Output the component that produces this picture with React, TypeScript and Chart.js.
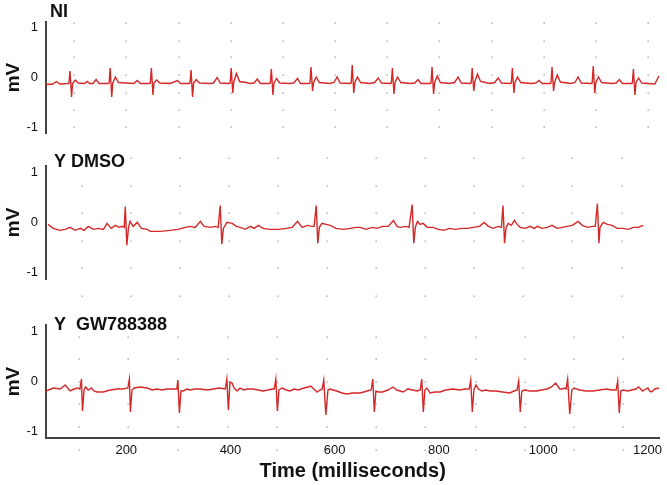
import React, { useEffect, useRef } from 'react';
import { Chart, registerables } from 'chart.js';

Chart.register(...registerables);
Chart.defaults.font.family = '"Liberation Sans", Arial, Helvetica, sans-serif';

// ---- data ----
const X_MIN = 46;
const X_MAX = 1223;
const X_TICKS = [200, 400, 600, 800, 1000, 1200];
const Y_TICKS = [-1, 0, 1];
const PANEL_TITLES = ['NI', 'Y DMSO', 'Y  GW788388'];
const X_TITLE = 'Time (milliseconds)';
const Y_TITLE = 'mV';

// [time (ms), voltage (mV)]
const NI_TRACE: [number, number][] = [
  [46, -0.14], [59, -0.13], [66, -0.08], [72, -0.13], [88, -0.12], [90, -0.11], [92, 0.13], [95, -0.39], [97, -0.12], [102, -0.05], [108, -0.11],
  [120, -0.12], [125, -0.08], [130, -0.12],
  [136, -0.12], [142, -0.04], [148, -0.12], [165, -0.12], [167, -0.11], [169, 0.19], [172, -0.39], [174, -0.11], [179, 0.01], [185, -0.1],
  [200, -0.11], [214, -0.12], [221, -0.06], [227, -0.12], [244, -0.12], [246, -0.11], [248, 0.19], [251, -0.35], [253, -0.11], [258, -0.05], [264, -0.11],
  [284, -0.12], [298, -0.06], [304, -0.12], [320, -0.12], [322, -0.11], [324, 0.15], [327, -0.39], [329, -0.11], [334, -0.04], [340, -0.11],
  [360, -0.12], [367, -0.11], [374, 0.0], [380, -0.11], [397, -0.12], [399, -0.11], [401, 0.19], [404, -0.31], [406, -0.09], [411, 0.08], [417, -0.08],
  [430, -0.1], [437, -0.12], [445, -0.11], [451, -0.03], [457, -0.12], [474, -0.12], [476, -0.11], [478, 0.17], [481, -0.35], [483, -0.11], [488, -0.02], [494, -0.11],
  [513, -0.12], [521, -0.11], [528, -0.02], [534, -0.12], [550, -0.12], [552, -0.11], [554, 0.21], [557, -0.27], [559, -0.1], [564, 0.01], [570, -0.1],
  [590, -0.12], [598, -0.1], [604, 0.01], [610, -0.11], [629, -0.12], [631, -0.11], [633, 0.25], [636, -0.31], [638, -0.1], [643, 0.01], [649, -0.1],
  [667, -0.12], [676, -0.1], [683, -0.01], [689, -0.11], [706, -0.12], [708, -0.11], [710, 0.19], [713, -0.33], [715, -0.1], [720, 0.01], [726, -0.1],
  [744, -0.12], [753, -0.11], [759, -0.04], [765, -0.12], [782, -0.12], [784, -0.11], [786, 0.21], [789, -0.33], [791, -0.1], [796, 0.03], [802, -0.1],
  [820, -0.12], [829, -0.1], [836, 0.01], [842, -0.11], [859, -0.12], [861, -0.11], [863, 0.19], [866, -0.27], [868, -0.09], [873, 0.07], [879, -0.08],
  [897, -0.12], [906, -0.1], [913, -0.01], [919, -0.11], [936, -0.12], [938, -0.11], [940, 0.19], [943, -0.31], [945, -0.1], [950, 0.01], [956, -0.1],
  [975, -0.12], [985, -0.11], [991, -0.06], [997, -0.12], [1012, -0.12], [1014, -0.11], [1016, 0.21], [1019, -0.27], [1021, -0.1], [1026, 0.05], [1032, -0.09],
  [1052, -0.12], [1060, -0.1], [1066, 0.01], [1072, -0.11], [1091, -0.12], [1093, -0.11], [1095, 0.23], [1098, -0.31], [1100, -0.1], [1105, 0.01], [1111, -0.1],
  [1130, -0.12], [1139, -0.11], [1145, -0.04], [1151, -0.12], [1168, -0.12], [1170, -0.11], [1172, 0.17], [1175, -0.35], [1177, -0.1], [1182, -0.01], [1188, -0.11],
  [1200, -0.12], [1213, -0.13], [1221, 0.03],
];

const DMSO_TRACE: [number, number][] = [
  [50, -0.04], [60, -0.12], [73, -0.16], [83, -0.14], [92, -0.1], [102, -0.16], [112, -0.12], [119, -0.16], [127, -0.08], [137, -0.14], [146, -0.12], [156, -0.14], [163, -0.02], [171, -0.12], [179, -0.06], [186, -0.1], [192, -0.08], [196, -0.1],
  [198, 0.32], [201, -0.46], [204, -0.12], [207, 0.02], [213, -0.08], [221, 0.0], [229, -0.12], [240, -0.14], [246, -0.18], [265, -0.18], [284, -0.16], [299, -0.14], [313, -0.1], [322, -0.08], [332, -0.1], [342, 0.02], [349, -0.08], [361, -0.1], [370, -0.08], [376, -0.1],
  [380, 0.34], [383, -0.44], [386, -0.12], [393, 0.0], [403, -0.02], [411, -0.08], [418, -0.1], [428, -0.14], [438, -0.08], [445, -0.12], [453, -0.06], [462, -0.12], [476, -0.14], [491, -0.14], [507, -0.12], [518, -0.1], [528, 0.02], [537, -0.1], [547, -0.06], [556, -0.08], [560, -0.08],
  [564, 0.34], [567, -0.42], [570, -0.1], [575, -0.02], [583, -0.04], [591, -0.06], [602, -0.12], [616, -0.14], [629, -0.12], [641, -0.1], [648, -0.1], [660, -0.14], [671, -0.1], [681, -0.12], [691, -0.08], [702, -0.08], [712, 0.04], [719, -0.08], [725, -0.1], [735, -0.08], [742, -0.1],
  [748, 0.36], [751, -0.42], [754, -0.1], [758, 0.02], [763, -0.04], [769, -0.02], [777, -0.1], [788, -0.1], [798, -0.14], [809, -0.16], [819, -0.12], [831, -0.14], [842, -0.12], [854, -0.12], [865, -0.1], [877, -0.08], [886, 0.0], [894, -0.08], [903, -0.12], [913, -0.08], [919, -0.1],
  [922, 0.34], [925, -0.42], [928, -0.1], [932, -0.02], [938, -0.06], [944, 0.04], [949, -0.04], [955, -0.1], [965, -0.12], [974, -0.08], [982, -0.12], [988, -0.08], [997, -0.12], [1007, -0.1], [1016, -0.06], [1026, -0.12], [1036, -0.1], [1045, -0.08], [1055, -0.06], [1066, 0.02], [1074, -0.06], [1084, -0.1], [1093, -0.08], [1099, -0.08],
  [1103, 0.38], [1106, -0.42], [1108, -0.1], [1114, 0.0], [1122, -0.04], [1131, -0.06], [1141, -0.12], [1152, -0.12], [1162, -0.14], [1172, -0.1], [1181, -0.1], [1191, -0.06],
];

const GW_TRACE: [number, number][] = [
  [46, -0.19], [60, -0.13], [73, -0.15], [83, -0.07], [92, -0.19], [100, -0.15], [106, -0.13], [111, -0.15],
  [114, 0.05], [116, -0.59], [119, -0.17], [122, -0.11], [127, -0.17], [133, -0.13], [138, -0.19], [144, -0.21], [156, -0.21], [169, -0.17], [183, -0.15], [192, -0.15], [203, -0.13],
  [206, 0.05], [208, -0.61], [211, -0.17], [215, -0.13], [227, -0.11], [240, -0.13], [250, -0.17], [259, -0.15], [269, -0.17], [278, -0.15], [290, -0.15], [297, -0.15],
  [299, 0.03], [302, -0.63], [305, -0.19], [309, -0.19], [317, -0.15], [322, -0.17], [332, -0.15], [342, -0.15], [355, -0.17], [367, -0.15], [378, -0.13], [390, -0.15],
  [393, 0.05], [396, -0.57], [399, -0.01], [403, -0.03], [407, -0.13], [413, -0.19], [418, -0.13], [426, -0.17], [432, -0.15], [443, -0.15], [453, -0.17], [462, -0.19], [472, -0.17], [480, -0.15], [484, -0.15],
  [487, 0.05], [490, -0.59], [493, -0.17], [499, -0.13], [507, -0.17], [514, -0.19], [522, -0.15], [530, -0.17], [541, -0.13], [549, -0.11], [554, -0.09], [560, -0.15], [566, -0.21], [572, -0.17], [576, -0.15],
  [579, 0.03], [583, -0.67], [587, -0.17], [591, -0.15], [597, -0.17], [604, -0.19], [614, -0.23], [623, -0.25], [635, -0.23], [648, -0.23], [656, -0.21], [662, -0.19], [670, -0.17],
  [673, 0.05], [676, -0.61], [679, -0.19], [683, -0.21], [692, -0.21], [702, -0.17], [712, -0.11], [719, -0.17], [731, -0.21], [740, -0.15], [750, -0.17], [758, -0.19], [764, -0.17],
  [767, 0.05], [770, -0.61], [773, -0.17], [777, -0.13], [783, -0.23], [792, -0.21], [802, -0.21], [813, -0.17], [827, -0.15], [840, -0.17], [850, -0.15], [858, -0.15],
  [861, 0.03], [864, -0.61], [867, -0.17], [871, -0.07], [876, -0.15], [882, -0.19], [890, -0.17], [898, -0.19], [909, -0.19], [922, -0.21], [936, -0.23], [944, -0.19], [950, -0.17],
  [953, 0.01], [956, -0.61], [959, -0.19], [965, -0.17], [974, -0.19], [988, -0.19], [997, -0.17], [1007, -0.15], [1016, -0.11], [1024, -0.03], [1032, -0.15], [1037, -0.15], [1041, -0.13], [1044, -0.15],
  [1047, 0.05], [1051, -0.65], [1055, -0.17], [1059, -0.13], [1064, -0.15], [1070, -0.17], [1082, -0.19], [1095, -0.19], [1108, -0.17], [1122, -0.15], [1131, -0.17], [1140, -0.17],
  [1143, 0.01], [1146, -0.63], [1149, -0.19], [1153, -0.17], [1162, -0.19], [1170, -0.17], [1178, -0.15], [1183, -0.11], [1191, -0.19], [1197, -0.15], [1201, -0.13], [1204, -0.19], [1208, -0.21], [1214, -0.15], [1222, -0.13],
];

// dotted background grid of each recording (data units)
const NI_GRID_X = [100, 200, 300, 400, 500, 600, 700, 800, 900, 1000, 1100, 1200];
const NI_GRID_Y = [1.09, 0.74, 0.4, 0.05, -0.3, -0.65, -0.99];
const DMSO_GRID_X = [115, 209, 303, 397, 491, 585, 679, 773, 867, 961, 1055, 1150];
const DMSO_GRID_Y = [1.3, 0.74, 0.18, -0.38, -0.92, -1.48];
const GW_GRID_X = [110, 204, 299, 395, 489, 585, 679, 773, 871, 965, 1060, 1154];
const GW_GRID_Y = [0.89, 0.45, -0.01, -0.45, -0.91, -1.37];

// ---- layout / style ----
const W = 667;
const TRACE_COLOR = 'rgb(212, 40, 40)';
const AXIS_COLOR = '#444';
const TEXT_COLOR = '#111';

const PANELS = [
  { trace: NI_TRACE, title: PANEL_TITLES[0], gx: NI_GRID_X, gy: NI_GRID_Y, top: 0, height: 150, padTop: 22, padBottom: 17, yr: 1.11, showX: false, tdx: 4, tdy: -5 },
  { trace: DMSO_TRACE, title: PANEL_TITLES[1], gx: DMSO_GRID_X, gy: DMSO_GRID_Y, top: 150, height: 155, padTop: 15, padBottom: 26, yr: 1.14, showX: false, tdx: 8, tdy: 1 },
  { trace: GW_TRACE, title: PANEL_TITLES[2], gx: GW_GRID_X, gy: GW_GRID_Y, top: 295, height: 190, padTop: 30, padBottom: 0, yr: 1.13, showX: true, tdx: 8, tdy: 5 },
];

const dotGrid = {
  id: 'dotGrid',
  beforeDraw(chart: any, _args: any, opts: any) {
    const { ctx, scales } = chart;
    const x = scales.x, y = scales.y;
    ctx.save();
    ctx.fillStyle = '#9c9c9c';
    for (const gx of opts.xs) {
      for (const gy of opts.ys) {
        const px = x.getPixelForValue(gx);
        const py = y.getPixelForValue(gy);
        ctx.fillRect(Math.round(px) - 0.5, Math.round(py) - 0.5, 1.3, 1.3);
      }
    }
    ctx.restore();
  },
};

const panelTitle = {
  id: 'panelTitle',
  afterDraw(chart: any, _args: any, opts: any) {
    const { ctx, chartArea } = chart;
    ctx.save();
    ctx.font = 'bold 18px "Liberation Sans", Arial, Helvetica, sans-serif';
    ctx.fillStyle = TEXT_COLOR;
    ctx.textBaseline = 'alphabetic';
    ctx.textAlign = 'left';
    ctx.fillText(opts.text, chartArea.left + opts.dx, chartArea.top + opts.dy);
    ctx.restore();
  },
};

function makeConfig(p: any): any {
  return {
    type: 'line',
    data: {
      datasets: [
        {
          data: p.trace.map(([t, v]: [number, number]) => ({ x: t, y: v })),
          borderColor: TRACE_COLOR,
          borderWidth: 1.4,
          pointRadius: 0,
          tension: 0,
          fill: false,
        },
      ],
    },
    plugins: [dotGrid, panelTitle],
    options: {
      animation: false,
      responsive: false,
      maintainAspectRatio: false,
      events: [],
      layout: { padding: { top: p.padTop, bottom: p.padBottom, left: 0, right: 7 } },
      plugins: {
        legend: { display: false },
        tooltip: { enabled: false },
        dotGrid: { xs: p.gx, ys: p.gy },
        panelTitle: { text: p.title, dx: p.tdx, dy: p.tdy },
      },
      scales: {
        x: {
          type: 'linear',
          min: X_MIN,
          max: X_MAX,
          display: p.showX,
          afterBuildTicks: (s: any) => {
            s.ticks = X_TICKS.map((v) => ({ value: v }));
          },
          afterFit: (s: any) => {
            s.height = p.showX ? 47 : 0;
          },
          grid: { display: false, drawTicks: false },
          border: { display: true, color: AXIS_COLOR, width: 2 },
          ticks: {
            color: TEXT_COLOR,
            font: { size: 13 },
            padding: 5,
            maxRotation: 0,
            autoSkip: false,
            callback: (v: any) => String(v),
          },
          title: {
            display: true,
            text: X_TITLE,
            color: TEXT_COLOR,
            font: { size: 20, weight: 'bold' },
            padding: { top: 0, bottom: 2 },
          },
        },
        y: {
          type: 'linear',
          min: -p.yr,
          max: p.yr,
          afterBuildTicks: (s: any) => {
            s.ticks = Y_TICKS.map((v) => ({ value: v }));
          },
          afterFit: (s: any) => {
            s.width = 46;
          },
          grid: { display: false, drawTicks: false },
          border: { display: true, color: AXIS_COLOR, width: 2 },
          ticks: {
            color: TEXT_COLOR,
            font: { size: 13 },
            padding: 8,
            callback: (v: any) => String(v),
          },
          title: {
            display: true,
            text: Y_TITLE,
            color: TEXT_COLOR,
            font: { size: 19, weight: 'bold' },
            padding: { top: 2, bottom: 0 },
          },
        },
      },
    },
  };
}

export default function App() {
  const r0 = useRef<HTMLCanvasElement>(null);
  const r1 = useRef<HTMLCanvasElement>(null);
  const r2 = useRef<HTMLCanvasElement>(null);
  const refs = [r0, r1, r2];

  useEffect(() => {
    const charts = PANELS.map((p, i) => new Chart(refs[i].current as HTMLCanvasElement, makeConfig(p)));
    return () => charts.forEach((c) => c.destroy());
  }, []);

  return (
    <div style={{ position: 'fixed', left: 0, top: 0, width: W, height: 485, background: '#fff' }}>
      {PANELS.map((p, i) => (
        <canvas
          key={i}
          ref={refs[i]}
          width={W}
          height={p.height}
          style={{ position: 'absolute', left: 0, top: p.top, width: W, height: p.height }}
        />
      ))}
    </div>
  );
}
